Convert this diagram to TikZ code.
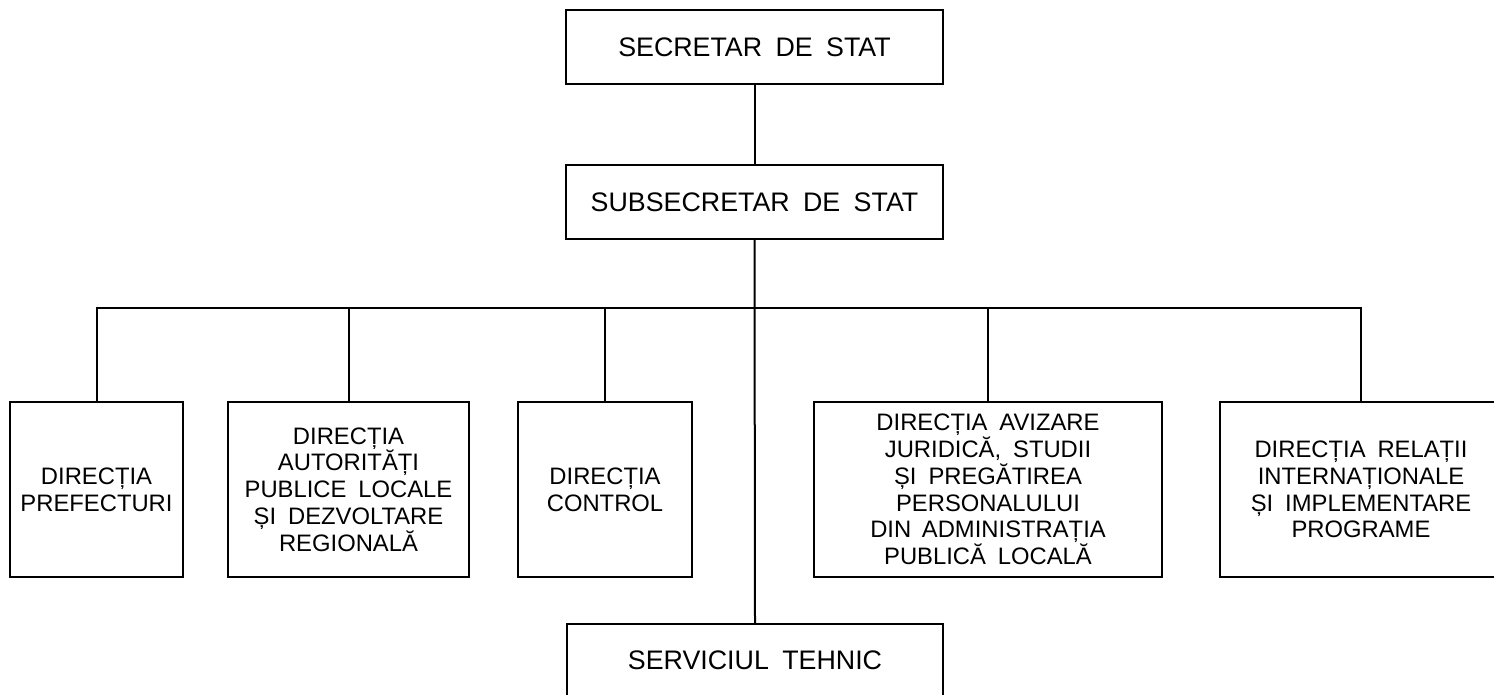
\documentclass[tikz,border=0pt]{standalone}
\usepackage{fontspec}
\setmainfont[WordSpace=1.8]{Liberation Sans}
\begin{document}
\begin{tikzpicture}[x=1pt,y=-1pt,
  box/.style={draw, line width=2pt, inner sep=0pt, align=center, anchor=center},
  topbox/.style={box, minimum width=377pt, minimum height=74pt, font=\fontsize{26.8}{30}\selectfont},
  lowbox/.style={box, minimum height=175pt, font=\fontsize{23.8}{26.7}\selectfont},
  conn/.style={line width=2pt}]
\useasboundingbox (0,0) rectangle (1494,695);
\node[topbox] (sec) at (754.5,47.5) {SECRETAR DE STAT};
\node[topbox] (sub) at (754.5,202) {SUBSECRETAR DE STAT};
\node[lowbox, minimum width=173pt] (pref) at (96.5,489.5) {DIRECȚIA\\PREFECTURI};
\node[lowbox, minimum width=241pt] (aut) at (348.5,489.5) {DIRECȚIA\\AUTORITĂȚI\\PUBLICE LOCALE\\ȘI DEZVOLTARE\\REGIONALĂ};
\node[lowbox, minimum width=174pt] (ctrl) at (605,489.5) {DIRECȚIA\\CONTROL};
\node[lowbox, minimum width=348pt] (aviz) at (988,489.5) {DIRECȚIA AVIZARE\\JURIDICĂ, STUDII\\ȘI PREGĂTIREA\\PERSONALULUI\\DIN\hspace{0.45em}ADMINISTRAȚIA\\PUBLICĂ LOCALĂ};
\node[lowbox, minimum width=282pt] (rel) at (1361,489.5) {DIRECȚIA RELAȚII\\INTERNAȚIONALE\\ȘI IMPLEMENTARE\\PROGRAME};
\node[topbox, minimum width=376pt, minimum height=73pt] (serv) at (755,660.5) {SERVICIUL TEHNIC};
\coordinate (bus) at (757,308);
\draw[conn] (sec.south) -- (sub.north);
\draw[conn] (sub.south) -- (serv.north);
\draw[conn] (pref.north) -- (pref.north |- bus) -- (rel.north |- bus) -- (rel.north);
\draw[conn] (aut.north) -- (aut.north |- bus);
\draw[conn] (ctrl.north) -- (ctrl.north |- bus);
\draw[conn] (aviz.north) -- (aviz.north |- bus);
\end{tikzpicture}
\end{document}
